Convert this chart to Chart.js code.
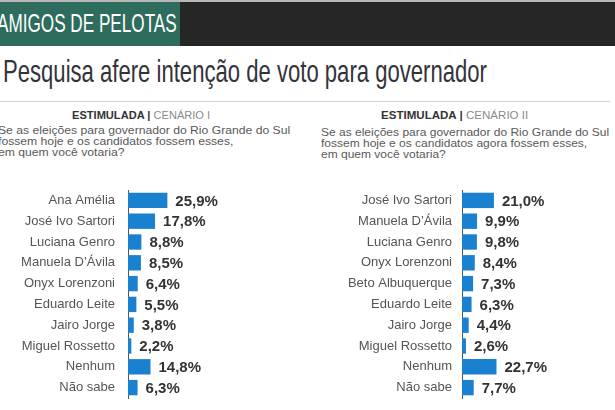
<!DOCTYPE html>
<html>
<head>
<meta charset="utf-8">
<script src="https://cdn.jsdelivr.net/npm/chart.js@4.4.0/dist/chart.umd.min.js"></script>
<style>
    body { margin: 0; width: 615px; height: 410px; overflow: hidden; background: #fff; position: relative; font-family: "Liberation Sans", Arial, sans-serif; }
    #topo { position: absolute; left: 0; top: 0; width: 615px; height: 2px; background: #b8b8b8; }
    #faixa { position: absolute; left: 0; top: 2px; width: 615px; height: 44px; background: #262626; }
    #marca { position: absolute; left: 0; top: 2px; width: 180px; height: 44px; background: #2e6d5d; overflow: hidden; }
    #divisor { position: absolute; left: 0; top: 101px; width: 610px; height: 1px; background: #d4d4d4; }
    .ajustar { position: absolute; white-space: nowrap; transform-origin: 0 0; }
    #marcaTexto { left: -3px; top: 7.6px; font-size: 26px; line-height: 26px; color: #fff; }
    #titulo { left: 3px; top: 55px; font-size: 32px; line-height: 32px; color: #33333a; }
    .cenario { font-size: 11px; line-height: 11px; color: #333; }
    .cenario span { color: #8a8a8a; }
    .pergunta { font-size: 10.5px; line-height: 10.8px; color: #595959; }
    canvas { position: absolute; }
</style>
</head>
<body>
<div id="topo"></div>
<div id="faixa"></div>
<div id="marca"><div id="marcaTexto" class="ajustar" data-largura="180">AMIGOS DE PELOTAS</div></div>
<div id="titulo" class="ajustar" data-largura="484">Pesquisa afere intenção de voto para governador</div>
<div id="divisor"></div>

<div class="ajustar cenario" style="left:72px;top:110px" data-largura="138"><b>ESTIMULADA |</b> <span>CENÁRIO I</span></div>
<div class="ajustar cenario" style="left:381px;top:110px" data-largura="147"><b>ESTIMULADA |</b> <span>CENÁRIO II</span></div>

<div class="ajustar pergunta" style="left:-2px;top:125px" data-largura="292">Se as eleições para governador do Rio Grande do Sul<br>fossem hoje e os candidatos fossem esses,<br>em quem você votaria?</div>
<div class="ajustar pergunta" style="left:321px;top:127px" data-largura="288">Se as eleições para governador do Rio Grande do Sul<br>fossem hoje e os candidatos agora fossem esses,<br>em quem você votaria?</div>

<canvas id="graficoCenario1" width="280" height="228" style="left:0;top:180px"></canvas>
<canvas id="graficoCenario2" width="309" height="228" style="left:305px;top:180px"></canvas>

<script>
// Dados
const candidatosCenario1 = ['Ana Amélia', 'José Ivo Sartori', 'Luciana Genro', 'Manuela D’Ávila', 'Onyx Lorenzoni',
    'Eduardo Leite', 'Jairo Jorge', 'Miguel Rossetto', 'Nenhum', 'Não sabe'];
const votosCenario1 = [25.9, 17.8, 8.8, 8.5, 6.4, 5.5, 3.8, 2.2, 14.8, 6.3];

const candidatosCenario2 = ['José Ivo Sartori', 'Manuela D’Ávila', 'Luciana Genro', 'Onyx Lorenzoni', 'Beto Albuquerque',
    'Eduardo Leite', 'Jairo Jorge', 'Miguel Rossetto', 'Nenhum', 'Não sabe'];
const votosCenario2 = [21.0, 9.9, 9.8, 8.4, 7.3, 6.3, 4.4, 2.6, 22.7, 7.7];

const AZUL = '#1a80d0';

// Texto condensado: estica/encolhe cada bloco até a largura medida
document.querySelectorAll('.ajustar').forEach(el => {
    const alvo = parseFloat(el.dataset.largura);
    el.style.transform = `scaleX(${alvo / el.offsetWidth})`;
});

// Rótulo com o percentual logo depois da barra
const rotulosValores = {
    id: 'rotulosValores',
    afterDatasetsDraw(chart) {
        const ctx = chart.ctx;
        const valores = chart.data.datasets[0].data;
        ctx.save();
        ctx.font = 'bold 15px "Liberation Sans"';
        ctx.fillStyle = '#333';
        ctx.textBaseline = 'middle';
        chart.getDatasetMeta(0).data.forEach((barra, i) => {
            ctx.fillText(valores[i].toFixed(1).replace('.', ',') + '%', barra.x + 8, barra.y + 1);
        });
        ctx.restore();
    }
};

function criarGrafico(idCanvas, candidatos, votos, larguraEixo, espacoRotulo) {
    return new Chart(document.getElementById(idCanvas), {
        type: 'bar',
        data: {
            labels: candidatos,
            datasets: [{
                data: votos,
                backgroundColor: AZUL,
                barPercentage: 0.74,
                categoryPercentage: 1
            }]
        },
        options: {
            indexAxis: 'y',
            responsive: false,
            animation: false,
            // padding maior que meia altura do rótulo, para a área ficar fixa
            layout: { padding: { top: 10, bottom: 10, left: 0, right: 0 } },
            plugins: { legend: { display: false }, tooltip: { enabled: false } },
            scales: {
                x: { display: false, min: 0, max: 100 },
                y: {
                    afterFit: scale => { scale.width = larguraEixo; },
                    grid: { display: false, drawTicks: true, tickLength: espacoRotulo },
                    border: { display: true, color: '#555', width: 1 },
                    ticks: {
                        autoSkip: false,
                        padding: 0,
                        color: '#555',
                        font: { family: 'Liberation Sans', size: 13 }
                    }
                }
            }
        },
        plugins: [rotulosValores]
    });
}

criarGrafico('graficoCenario1', candidatosCenario1, votosCenario1, 128, 13);
criarGrafico('graficoCenario2', candidatosCenario2, votosCenario2, 157, 10);
</script>
</body>
</html>
